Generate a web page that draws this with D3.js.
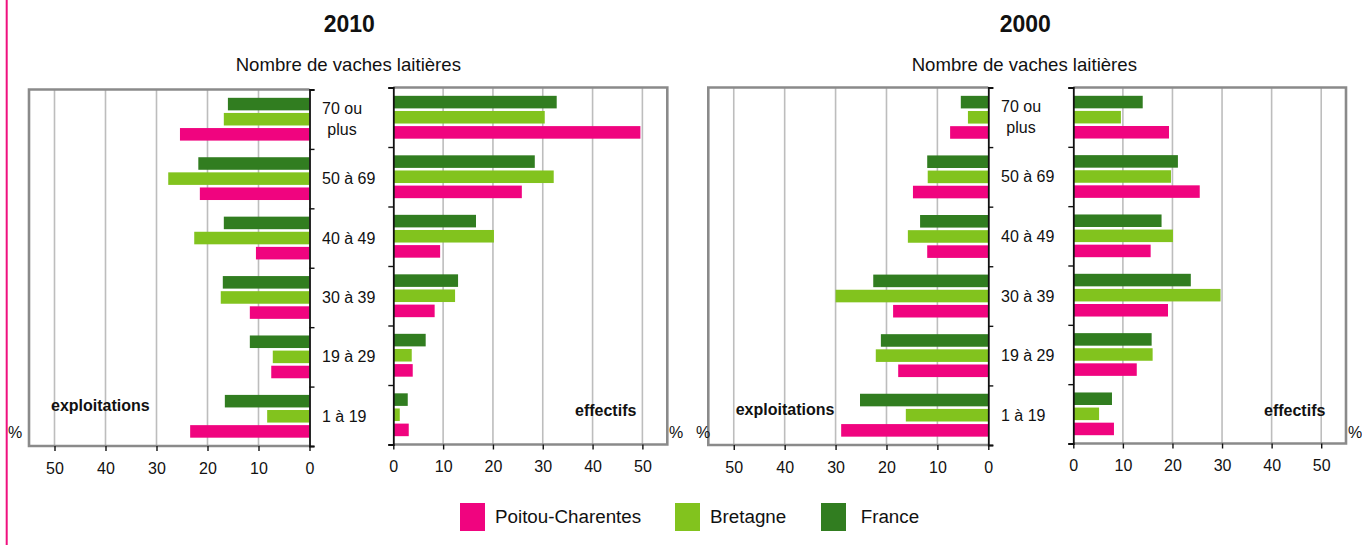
<!DOCTYPE html>
<html><head><meta charset="utf-8">
<script src="https://cdn.jsdelivr.net/npm/d3@7"></script>
<style>
html,body{margin:0;padding:0;background:#fff;}
text{font-family:"Liberation Sans",Arial,Helvetica,sans-serif;fill:#111;}
</style></head>
<body>
<svg id="chart" width="1362" height="545"></svg>
<script>
// ---- DATA ----
const categories = ["70 ou plus", "50 à 69", "40 à 49", "30 à 39", "19 à 29", "1 à 19"];
const seriesNames = ["France", "Bretagne", "Poitou-Charentes"]; // order inside each group (top to bottom)
const legendOrder = ["Poitou-Charentes", "Bretagne", "France"];
const tickValues = [0, 10, 20, 30, 40, 50];

const expl2010_PC = [25.4, 21.5, 10.5, 11.7, 7.5, 23.4];
const expl2010_BR = [16.8, 27.7, 22.6, 17.4, 7.2, 8.3];
const expl2010_FR = [16.0, 21.8, 16.8, 17.0, 11.7, 16.6];
const eff2010_PC  = [49.6, 25.8, 9.4, 8.3, 3.9, 3.1];
const eff2010_BR  = [30.4, 32.2, 20.2, 12.4, 3.7, 1.3];
const eff2010_FR  = [32.8, 28.4, 16.6, 13.0, 6.5, 2.9];
const expl2000_PC = [7.5, 14.8, 12.0, 18.7, 17.7, 28.9];
const expl2000_BR = [4.0, 11.9, 15.8, 30.0, 22.1, 16.2];
const expl2000_FR = [5.4, 12.0, 13.4, 22.6, 21.1, 25.2];
const eff2000_PC  = [19.3, 25.5, 15.6, 19.1, 12.8, 8.2];
const eff2000_BR  = [9.6, 19.7, 20.1, 29.7, 16.0, 5.2];
const eff2000_FR  = [14.0, 21.1, 17.8, 23.7, 15.8, 7.8];

const colors = {"Poitou-Charentes": "#f0047f", "Bretagne": "#82c31e", "France": "#317d20"};

// ---- LAYOUT ----
const svg = d3.select("#chart");
svg.append("rect").attr("width", 1362).attr("height", 545).attr("fill", "#fff");
svg.append("line").attr("x1", 6.7).attr("x2", 6.7).attr("y1", 0).attr("y2", 545)
  .attr("stroke", "#f0107f").attr("stroke-width", 2);

const panels = [
  {data: {"France": expl2010_FR, "Bretagne": expl2010_BR, "Poitou-Charentes": expl2010_PC},
   side: "left", zeroX: 309.5, outerX: 29, top: 89.5, bottom: 446, label: "exploitations",
   labelX: 51, labelY: 411, pctX: 8},
  {data: {"France": eff2010_FR, "Bretagne": eff2010_BR, "Poitou-Charentes": eff2010_PC},
   side: "right", zeroX: 393.3, outerX: 667.3, top: 87.5, bottom: 444.5, label: "effectifs",
   labelX: 575, labelY: 416, pctX: 669},
  {data: {"France": expl2000_FR, "Bretagne": expl2000_BR, "Poitou-Charentes": expl2000_PC},
   side: "left", zeroX: 988.3, outerX: 708.3, top: 87.5, bottom: 445, label: "exploitations",
   labelX: 735.7, labelY: 415, pctX: 696},
  {data: {"France": eff2000_FR, "Bretagne": eff2000_BR, "Poitou-Charentes": eff2000_PC},
   side: "right", zeroX: 1073.3, outerX: 1346, top: 87.5, bottom: 443.5, label: "effectifs",
   labelX: 1264, labelY: 416, pctX: 1348}
];

panels.forEach(p => {
  const g = svg.append("g");
  const x = d3.scaleLinear().domain([0, 55]).range([p.zeroX, p.outerX]);
  const y = d3.scaleBand().domain(categories).range([p.top, p.bottom]).padding(0);
  const yIdx = d3.scaleLinear().domain([0, categories.length]).range([p.top, p.bottom]);
  const ySub = d3.scaleBand().domain(seriesNames).range([0, y.bandwidth()])
    .paddingInner(0.17).paddingOuter(0.55);

  // gridlines
  g.selectAll(".grid").data(tickValues.filter(v => v > 0)).enter().append("line")
    .attr("x1", d => x(d)).attr("x2", d => x(d))
    .attr("y1", p.top).attr("y2", p.bottom)
    .attr("stroke", "#bdbdbd").attr("stroke-width", 1.6);

  // frame (top, outer side, bottom)
  g.append("path")
    .attr("d", `M${p.zeroX},${p.top} L${p.outerX},${p.top} L${p.outerX},${p.bottom} L${p.zeroX},${p.bottom}`)
    .attr("fill", "none").attr("stroke", "#8a8a8a").attr("stroke-width", 2.6);

  // bars
  seriesNames.forEach(s => {
    g.selectAll(null).data(p.data[s]).enter().append("rect")
      .attr("x", d => Math.min(x(0), x(d)))
      .attr("width", d => Math.abs(x(d) - x(0)))
      .attr("y", (d, i) => y(categories[i]) + ySub(s))
      .attr("height", ySub.bandwidth())
      .attr("fill", colors[s]);
  });

  // bottom axis
  const xAxis = d3.axisBottom(x).tickValues(tickValues).tickSize(5).tickPadding(11.5)
    .tickFormat(d3.format("d"));
  const ax = g.append("g").attr("transform", `translate(0,${p.bottom})`).call(xAxis);
  ax.select(".domain").remove();
  ax.selectAll(".tick line").attr("stroke", "#111").attr("stroke-width", 1.4);
  ax.selectAll(".tick text").attr("font-size", 16).attr("fill", "#111")
    .style("font-family", '"Liberation Sans",Arial,sans-serif');

  // zero axis with category boundary ticks
  const yAxis = (p.side === "left" ? d3.axisRight(yIdx) : d3.axisLeft(yIdx))
    .tickValues(d3.range(categories.length + 1)).tickSize(5).tickFormat("");
  const ay = g.append("g").attr("transform", `translate(${p.zeroX},0)`).call(yAxis);
  ay.select(".domain").attr("stroke", "#111").attr("stroke-width", 1.8);
  ay.selectAll(".tick line").attr("stroke", "#111").attr("stroke-width", 1.4);

  // panel labels
  g.append("text").attr("x", p.labelX).attr("y", p.labelY)
    .attr("font-size", 16).attr("font-weight", "bold").text(p.label);
  g.append("text").attr("x", p.pctX).attr("y", 438).attr("font-size", 16).text("%");
});

// category labels between each pair
const pairs = [{left: panels[0], startX: 322}, {left: panels[2], startX: 1001}];
pairs.forEach(pr => {
  const p = pr.left;
  const y = d3.scaleBand().domain(categories).range([p.top, p.bottom]);
  categories.forEach(c => {
    const cy = y(c) + y.bandwidth() / 2;
    if (c === "70 ou plus") {
      const t1 = svg.append("text").attr("x", pr.startX).attr("y", cy - 10.5)
        .attr("dy", "0.35em").attr("font-size", 16).text("70 ou");
      const w = t1.node().getComputedTextLength();
      svg.append("text").attr("x", pr.startX + w / 2).attr("y", cy + 10.5)
        .attr("dy", "0.35em").attr("text-anchor", "middle").attr("font-size", 16).text("plus");
    } else {
      svg.append("text").attr("x", pr.startX).attr("y", cy).attr("dy", "0.35em")
        .attr("font-size", 16).text(c);
    }
  });
});

// titles
[{t: "2010", cx: 349.3}, {t: "2000", cx: 1025.3}].forEach(d => {
  svg.append("text").attr("x", d.cx).attr("y", 31.5).attr("text-anchor", "middle")
    .attr("font-size", 23).attr("font-weight", "bold").text(d.t);
  svg.append("text").attr("x", d.cx - 1).attr("y", 70.5).attr("text-anchor", "middle")
    .attr("font-size", 18.6).text("Nombre de vaches laitières");
});

// legend
const legendX = [460, 675, 821];
const legendTextX = [495, 710, 860.7];
legendOrder.forEach((s, i) => {
  svg.append("rect").attr("x", legendX[i]).attr("y", 503).attr("width", 25).attr("height", 28)
    .attr("fill", colors[s]);
  svg.append("text").attr("x", legendTextX[i]).attr("y", 523.3).attr("font-size", 18.8).text(s);
});
</script>
</body></html>
